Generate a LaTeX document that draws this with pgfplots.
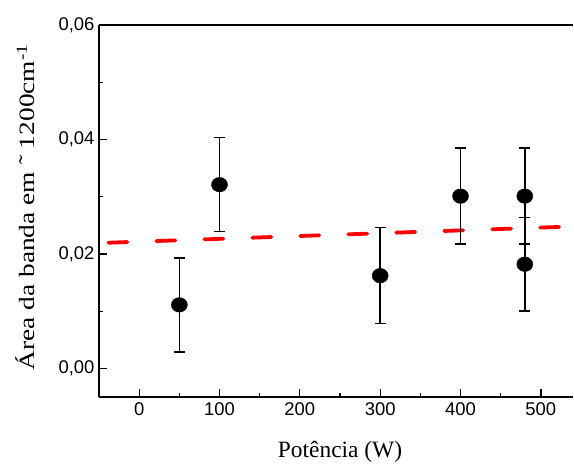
\documentclass[border=0pt]{standalone}
\usepackage{fontspec}
\setmainfont{Liberation Serif}
\newfontfamily\arial{Liberation Sans}
\usepackage{pgfplots}
\pgfplotsset{compat=1.18}

\begin{document}
\begin{tikzpicture}
\useasboundingbox (-99bp,-67bp) rectangle (475bp,397bp);
\begin{axis}[
    scale only axis,
    width=474bp, height=372bp,
    xmin=-50, xmax=540,
    ymin=-0.005, ymax=0.06,
    axis lines*=left,
    axis line style={line width=1.6pt},
    every tick/.style={black, line width=1.3pt},
    tick align=inside,
    major tick length=8bp,
    minor tick length=4.5bp,
    xtick={0,100,...,500},
    minor xtick={50,150,...,450},
    ytick={0,0.02,0.04,0.06},
    minor ytick={0.01,0.03,0.05},
    scaled y ticks=false,
    ticklabel style={font=\arial\fontsize{18.5}{20}\selectfont},
    /pgf/number format/assume math mode=true,
    yticklabel style={xshift=-1bp, /pgf/number format/.cd, use comma, fixed, fixed zerofill, precision=2},
    xticklabel style={yshift=-2bp},
    xlabel={Potência (W)},
    ylabel={Área da banda em ˜ 1200cm\textsuperscript{-1}},
    label style={font=\fontsize{23.5}{26}\selectfont},
    xlabel style={at={(rel axis cs:0.5,0)}, anchor=center, xshift=4bp, yshift=-55bp},
    ylabel style={font=\fontsize{22}{24}\selectfont, at={(rel axis cs:0,0.5)}, anchor=center, xscale=1.25, xshift=3bp, yshift=74bp},
    clip=false,
]
\addplot[red, line width=3.8pt, line cap=round, dash pattern=on 19bp off 29bp, dash phase=38.6bp] coordinates {
    (-50,0.0219) (540,0.0248)
};
\addplot[only marks, mark=*, mark size=7.3bp, black, mark options={xscale=1.1},
    error bars/.cd, y dir=both, y explicit,
    error bar style={line width=1.5pt, black},
    error mark options={rotate=90, mark size=5.5bp, line width=1.5pt, black}]
coordinates {
    (50,0.0111) +- (0,0.0082)
    (100,0.0321) +- (0,0.0082)
    (300,0.0162) +- (0,0.0084)
    (400,0.0301) +- (0,0.0084)
    (480,0.0301) +- (0,0.0084)
    (480,0.0182) +- (0,0.0082)
};
\draw[line width=1.6pt] (rel axis cs:0,1) -- (rel axis cs:1,1);
\end{axis}
\end{tikzpicture}
\end{document}
